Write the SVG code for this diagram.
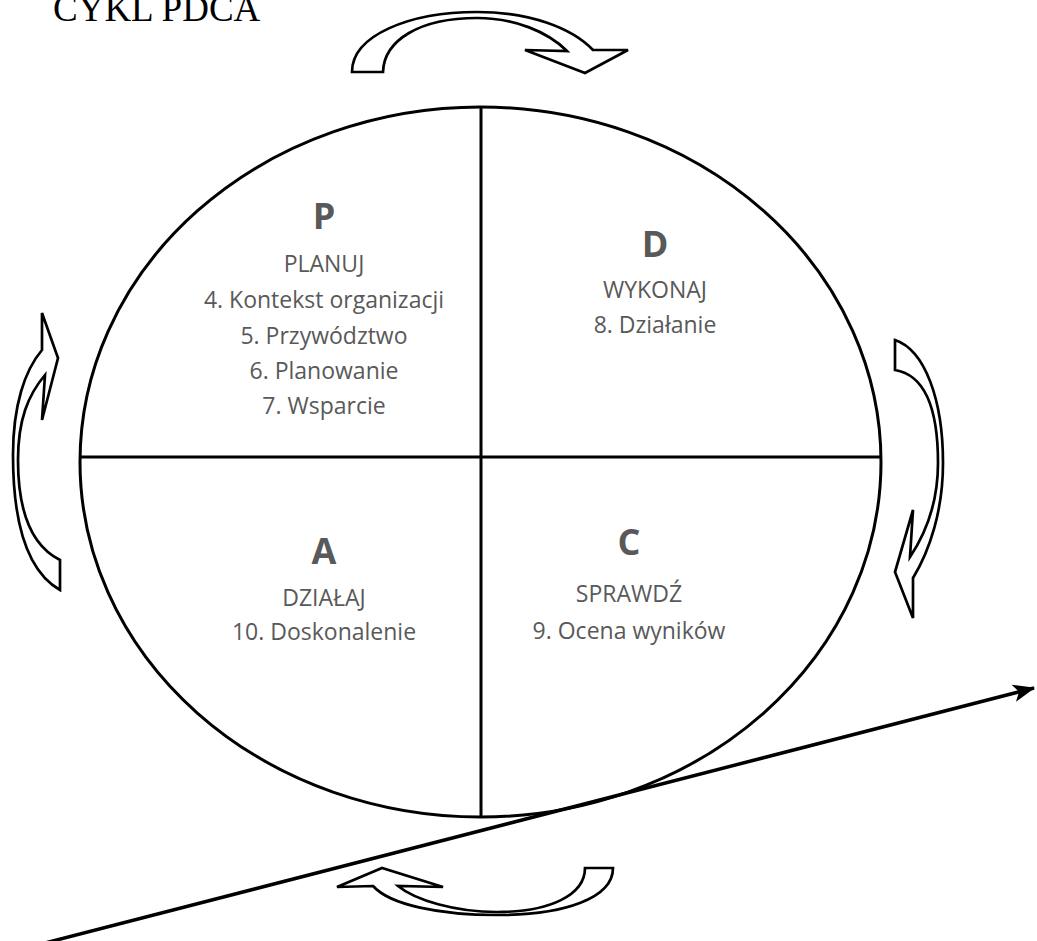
<svg xmlns="http://www.w3.org/2000/svg" width="1037" height="941" viewBox="0 0 1037 941">
  <style>
    .title { font-family: "Liberation Serif", "Times New Roman", serif; font-size: 37px; fill: #000; }
    .big { font-family: "Open Sans", "Liberation Sans", sans-serif; font-size: 36px; font-weight: bold; fill: #595959; text-anchor: middle; }
    .txt { font-family: "Open Sans", "Liberation Sans", sans-serif; font-size: 23px; fill: #595959; text-anchor: middle; }
    .frame { fill: none; stroke: #000; stroke-width: 3; }
    .cyc { fill: #fff; stroke: #000; stroke-width: 2.7; stroke-linejoin: miter; }
    .axis { fill: none; stroke: #000; stroke-width: 3.5; }
  </style>
  <defs>
    <marker id="head" viewBox="0 0 20 16" refX="19" refY="8" markerWidth="22" markerHeight="18" markerUnits="userSpaceOnUse" orient="auto">
      <path d="M0,0 L20,8 L0,16 L5,8 Z" fill="#000"/>
    </marker>
  </defs>
  <rect width="1037" height="941" fill="#fff"/>

  <text class="title" x="53" y="21">CYKL PDCA</text>

  <g id="circle">
    <ellipse class="frame" cx="480.5" cy="462" rx="400.5" ry="355"/>
    <line class="frame" x1="481" y1="107" x2="481" y2="817"/>
    <line class="frame" x1="80" y1="457" x2="881" y2="457"/>
  </g>

  <g id="node-P">
    <text class="big" x="324" y="229">P</text>
    <text class="txt" x="324" y="272">PLANUJ</text>
    <text class="txt" x="324" y="308">4. Kontekst organizacji</text>
    <text class="txt" x="324" y="344">5. Przywództwo</text>
    <text class="txt" x="324" y="379">6. Planowanie</text>
    <text class="txt" x="324" y="414">7. Wsparcie</text>
  </g>
  <g id="node-D">
    <text class="big" x="655" y="257">D</text>
    <text class="txt" x="655" y="298">WYKONAJ</text>
    <text class="txt" x="655" y="333">8. Działanie</text>
  </g>
  <g id="node-A">
    <text class="big" x="324" y="564">A</text>
    <text class="txt" x="324" y="606">DZIAŁAJ</text>
    <text class="txt" x="324" y="640">10. Doskonalenie</text>
  </g>
  <g id="node-C">
    <text class="big" x="629" y="555">C</text>
    <text class="txt" x="629" y="602">SPRAWDŹ</text>
    <text class="txt" x="629" y="639">9. Ocena wyników</text>
  </g>

  <g id="connectors">
    <path id="arrow-top" class="cyc" d="M352,72 C352,35 410,12 477,12 C530,12 572,28 593,50 L628,50 L585,73 L525,50 L567,51 C548,32 515,18 477,18 C420,18 384,40 383,72 Z"/>
    <path id="arrow-right" class="cyc" d="M895,340 C925,350 943,400 943,463 C943,510 930,550 913,578 L913,618 L895,572 L913,510 L910,557 C928,530 938,500 938,463 C938,410 925,375 895,370 Z"/>
    <path id="arrow-bottom" class="cyc" d="M613,868 C613,898 565,915 497,915 C440,915 390,905 373,886 L337,887 L382,868 L443,887 L398,886 C415,900 455,912 497,912 C550,912 585,895 585,868 Z"/>
    <path id="arrow-left" class="cyc" d="M60,590 C25,570 13,520 13,455 C13,405 25,370 42,350 L42,313 L58,358 L42,420 L45,375 C28,395 18,420 18,460 C18,510 30,545 60,560 Z"/>
    <line id="improvement" class="axis" x1="45" y1="943" x2="1034" y2="688" marker-end="url(#head)"/>
  </g>
</svg>
